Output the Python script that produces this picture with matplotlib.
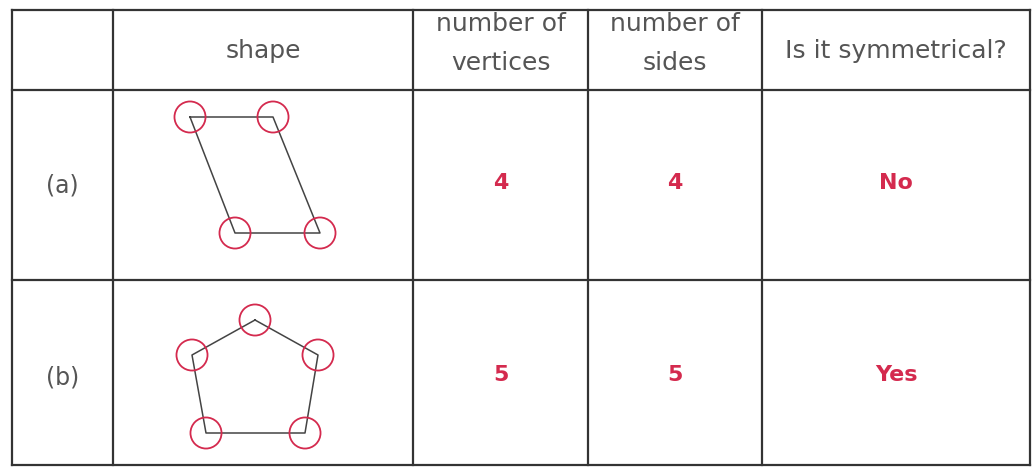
import numpy as np
import matplotlib.pyplot as plt

# table layout (pixel grid of the original worksheet)
col_edges = [12, 113, 413, 588, 762, 1030]
row_edges = [10, 90, 280, 465]

headers = ["", "shape", "number of\nvertices", "number of\nsides", "Is it symmetrical?"]
row_labels = ["(a)", "(b)"]
vertices = ["4", "5"]
sides = ["4", "5"]
symmetric = ["No", "Yes"]

# shape corner points
para_x = [190, 273, 320, 235]
para_y = [117, 117, 233, 233]
pent_x = [255, 318, 305, 206, 192]
pent_y = [320, 355, 433, 433, 355]

red = "#d42a4e"
grey = "#555555"
line = "#333333"

fig = plt.figure(figsize=(10.35, 4.68), dpi=100)
ax = fig.add_axes([0, 0, 1, 1])
ax.set_xlim(0, 1035)
ax.set_ylim(468, 0)
ax.axis("off")

for x in col_edges:
    ax.plot([x, x], [row_edges[0], row_edges[-1]], color=line, lw=1.6)
for y in row_edges:
    ax.plot([col_edges[0], col_edges[-1]], [y, y], color=line, lw=1.6)

mids = [(col_edges[i] + col_edges[i + 1]) / 2 for i in range(5)]

# header: one line sits on baseline 58, two lines on 31 and 70
for i, h in enumerate(headers):
    parts = h.split("\n")
    bases = [58] if len(parts) == 1 else [31, 70]
    for txt, b in zip(parts, bases):
        ax.text(mids[i], b, txt, ha="center", va="baseline", fontsize=18,
                color=grey, family="DejaVu Sans")

row_mid = [185, 377]
for r in range(2):
    cy = row_mid[r]
    ax.text(mids[0], cy, row_labels[r], ha="center", va="center", fontsize=17,
            color=grey, family="DejaVu Sans")
    for i, val in zip([2, 3, 4], [vertices[r], sides[r], symmetric[r]]):
        ax.text(mids[i], cy - 2, val, ha="center", va="center", fontsize=16,
                color=red, fontweight="bold", family="DejaVu Sans")

for xs, ys in [(para_x, para_y), (pent_x, pent_y)]:
    ax.plot(xs + xs[:1], ys + ys[:1], color="#444444", lw=1.1)
    ax.scatter(xs, ys, s=500, facecolors="none", edgecolors=red, linewidths=1.3, zorder=3)

fig.savefig("out.png", dpi=100)
